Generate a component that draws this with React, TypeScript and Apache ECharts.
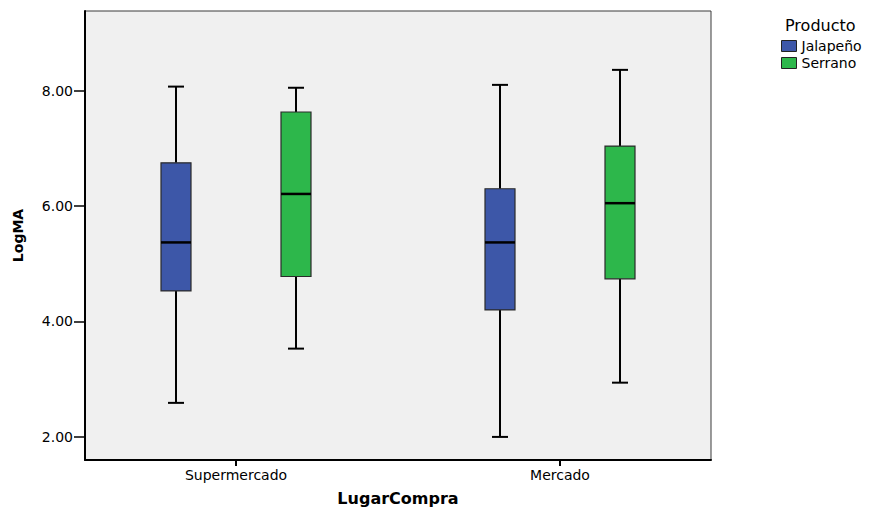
import React, { useEffect, useRef } from "react";
import * as echarts from "echarts";

// Categories on the x axis
const categories = ["Supermercado", "Mercado"];
// Legend / series names
const seriesNames = ["Jalapeño", "Serrano"];
// Box values per category: [min, Q1, median, Q3, max]
const jalapenoBoxes = [
  [2.59, 4.53, 5.37, 6.75, 8.07],
  [2.0, 4.2, 5.37, 6.3, 8.1],
];
const serranoBoxes = [
  [3.53, 4.78, 6.21, 7.63, 8.05],
  [2.94, 4.74, 6.05, 7.04, 8.36],
];
// Y axis tick values
const yTicks = [2, 4, 6, 8];
const yMin = 1.6;
const yMax = 9.38;

const COLORS = ["#3d57a8", "#2db74b"];
const FONT = "DejaVu Sans";

function makeRender(offset: number) {
  return (params: any, api: any) => {
    const cat = api.value(0);
    const pMin = api.coord([cat, api.value(1)]);
    const pQ1 = api.coord([cat, api.value(2)]);
    const pMed = api.coord([cat, api.value(3)]);
    const pQ3 = api.coord([cat, api.value(4)]);
    const pMax = api.coord([cat, api.value(5)]);
    const x = pMin[0] + offset;
    const half = 15;
    const cap = 8;
    const color = api.visual("color");
    const lineStyle = { stroke: "#000", lineWidth: 2 };
    return {
      type: "group",
      children: [
        { type: "line", shape: { x1: x, y1: pMax[1], x2: x, y2: pQ3[1] }, style: lineStyle },
        { type: "line", shape: { x1: x, y1: pQ1[1], x2: x, y2: pMin[1] }, style: lineStyle },
        { type: "line", shape: { x1: x - cap, y1: pMax[1], x2: x + cap, y2: pMax[1] }, style: lineStyle },
        { type: "line", shape: { x1: x - cap, y1: pMin[1], x2: x + cap, y2: pMin[1] }, style: lineStyle },
        {
          type: "rect",
          shape: { x: x - half, y: pQ3[1], width: half * 2, height: pQ1[1] - pQ3[1] },
          style: { fill: color, stroke: "#2a2a2a", lineWidth: 1.2 },
        },
        {
          type: "line",
          shape: { x1: x - half, y1: pMed[1], x2: x + half, y2: pMed[1] },
          style: { stroke: "#000", lineWidth: 2.5 },
        },
      ],
    };
  };
}

function toData(boxes: number[][]) {
  return boxes.map((b, i) => [i, ...b]);
}

export default function App() {
  const ref = useRef<HTMLDivElement>(null);
  useEffect(() => {
    document.body.style.margin = "0";
    if (!ref.current) return;
    const chart = echarts.init(ref.current, null, { renderer: "svg" });
    const gridTop = 11;
    const gridBottom = 48;
    chart.setOption({
      animation: false,
      backgroundColor: "#ffffff",
      title: {
        text: "Producto",
        left: 785,
        top: 17,
        padding: 0,
        textStyle: { fontFamily: FONT, fontSize: 16, fontWeight: "normal", color: "#000" },
      },
      legend: {
        data: seriesNames,
        orient: "vertical",
        left: 781,
        top: 39,
        padding: 0,
        itemWidth: 15,
        itemHeight: 11,
        itemGap: 3,
        icon: "rect",
        itemStyle: { borderColor: "#222", borderWidth: 1 },
        textStyle: { fontFamily: FONT, fontSize: 14, lineHeight: 14, color: "#000", padding: [0, 0, 0, 0] },
      },
      grid: [
        {
          left: 85,
          right: 159,
          top: gridTop,
          bottom: gridBottom,
          outerBoundsMode: "none",
          containLabel: false,
          show: true,
          backgroundColor: "#f0f0f0",
          borderColor: "#3a3a3a",
          borderWidth: 1,
        },
        {
          left: 74,
          right: 148,
          top: gridTop,
          bottom: gridBottom,
          outerBoundsMode: "none",
          containLabel: false,
        },
      ],
      xAxis: [
        {
          gridIndex: 0,
          type: "category",
          data: categories,
          axisLine: { show: true, lineStyle: { color: "#000", width: 2 } },
          axisTick: { show: false },
          axisLabel: { show: false },
          splitLine: { show: false },
        },
        {
          gridIndex: 1,
          type: "category",
          data: categories,
          name: "LugarCompra",
          nameLocation: "middle",
          nameGap: 30,
          nameTextStyle: { fontFamily: FONT, fontSize: 16, fontWeight: "bold", color: "#000" },
          axisLine: { show: false },
          axisTick: { show: true, alignWithLabel: true, length: 6, lineStyle: { color: "#000", width: 2 } },
          axisLabel: { fontFamily: FONT, fontSize: 14, color: "#000", margin: 8 },
          splitLine: { show: false },
        },
      ],
      yAxis: [
        {
          gridIndex: 0,
          type: "value",
          min: yMin,
          max: yMax,
          name: "LogMA",
          nameLocation: "middle",
          nameGap: 60,
          nameTextStyle: { fontFamily: FONT, fontSize: 14, fontWeight: "bold", color: "#000" },
          axisLine: { show: true, lineStyle: { color: "#000", width: 2 } },
          axisTick: { show: true, length: 11, customValues: yTicks, lineStyle: { color: "#000", width: 1.5 } },
          axisLabel: {
            fontFamily: FONT,
            fontSize: 14,
            color: "#000",
            margin: 12,
            customValues: yTicks,
            formatter: (v: number) => v.toFixed(2),
          },
          splitLine: { show: false },
        },
        {
          gridIndex: 1,
          type: "value",
          min: yMin,
          max: yMax,
          show: false,
          splitLine: { show: false },
        },
      ],
      series: [
        {
          name: seriesNames[0],
          type: "custom",
          xAxisIndex: 1,
          yAxisIndex: 1,
          itemStyle: { color: COLORS[0] },
          encode: { x: 0, y: [1, 2, 3, 4, 5] },
          renderItem: makeRender(-60),
          data: toData(jalapenoBoxes),
          z: 3,
        },
        {
          name: seriesNames[1],
          type: "custom",
          xAxisIndex: 1,
          yAxisIndex: 1,
          itemStyle: { color: COLORS[1] },
          encode: { x: 0, y: [1, 2, 3, 4, 5] },
          renderItem: makeRender(60),
          data: toData(serranoBoxes),
          z: 3,
        },
      ],
    });
    return () => chart.dispose();
  }, []);
  return <div ref={ref} style={{ width: 870, height: 508 }} />;
}
